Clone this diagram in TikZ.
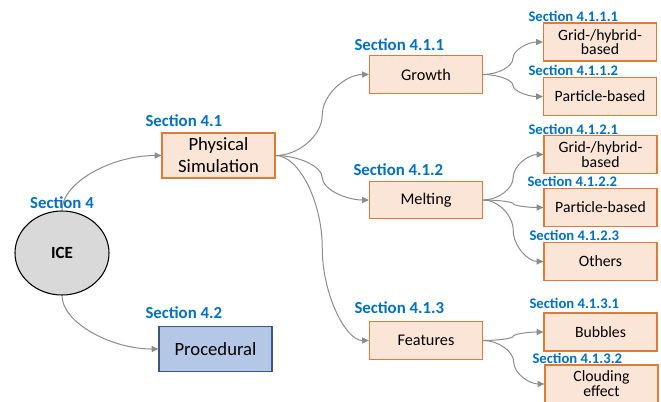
\documentclass[tikz,border=0pt]{standalone}
\usepackage{fontspec}
\setmainfont{Carlito}
\usetikzlibrary{arrows.meta,shapes.geometric,calc}

\definecolor{secblue}{HTML}{0070C0}
\definecolor{boxfill}{HTML}{FBE5D6}
\definecolor{boxline}{HTML}{DE7A3A}
\definecolor{procfill}{HTML}{B4C7E7}
\definecolor{procline}{HTML}{3E5580}
\definecolor{icefill}{HTML}{D9D9D9}
\definecolor{linkgray}{HTML}{8C8C8C}

\tikzset{every picture/.style={line width=0.75pt}}
\tikzset{
  seclabel/.style={text=secblue, inner sep=0pt, anchor=base west, font=\fontsize{12.6}{15}\selectfont\bfseries},
  leaflabel/.style={seclabel, font=\fontsize{11}{13}\selectfont\bfseries},
  icenode/.style={ellipse, draw=black, fill=icefill, line width=0.8pt, minimum width=70.5pt, minimum height=63pt, inner sep=0pt, font=\fontsize{12.8}{15}\selectfont\bfseries},
  topbox/.style={draw=boxline, fill=boxfill, line width=0.9pt, minimum width=84.75pt, minimum height=33.75pt, inner sep=0.75pt, align=center, font=\fontsize{14}{16.5}\selectfont},
  midbox/.style={topbox, minimum height=28pt, font=\fontsize{12.2}{14}\selectfont},
  leafbox/.style={topbox, minimum height=28.5pt, font=\fontsize{11.8}{9.8}\selectfont},
  link/.style={draw=linkgray, line width=0.75pt, -{Triangle[length=5pt,width=4.5pt]}},
  % S-shaped connector: two cubic halves meeting upright at the midpoint
  scurve/.style={to path={
    let \p1=(\tikztostart), \p2=(\tikztotarget), \p3=($(\p1)!0.5!(\p2)$) in
    .. controls ($(\p1)!0.5!(\x3,\y1)$) and ($(\x3,\y1)!0.5!(\p3)$) .. (\p3)
    .. controls ($(\p3)!0.5!(\x3,\y2)$) and ($(\x3,\y2)!0.5!(\p2)$) .. (\p2) \tikztonodes}},
}

\begin{document}
\begin{tikzpicture}[x=0.75pt,y=0.75pt,yscale=-1,xscale=1]
\useasboundingbox (0,0) rectangle (661,401);

%Shape: Ellipse [root]
\node[icenode] (ice) at (62,253) {ICE};

%Shape: Rectangles [level 1]
\node[topbox] (phys) at (218.5,155.5) {Physical\\Simulation};
\node[topbox, draw=procline, fill=procfill] (proc) at (215.5,349) {Procedural};

%Shape: Rectangles [level 2]
\node[midbox] (growth) at (426,74.5) {Growth};
\node[midbox] (melt) at (426,200) {Melting};
\node[midbox] (feat) at (426,340.5) {Features};

%Shape: Rectangles [level 3]
\node[leafbox] (growgrid) at (600,42) {Grid-/hybrid-\\based};
\node[leafbox] (growpart) at (600,96.5) {Particle-based};
\node[leafbox] (meltgrid) at (600.5,154.5) {Grid-/hybrid-\\based};
\node[leafbox] (meltpart) at (600.5,207.5) {Particle-based};
\node[leafbox] (meltother) at (600.5,261.5) {Others};
\node[leafbox] (bubbles) at (600.5,332) {Bubbles};
\node[leafbox] (clouding) at (601.5,384) {Clouding\\effect};

% Text Node
\node[seclabel, anchor=base] (sec4) at (62,208) {Section 4};
\node[seclabel] (sec41) at (145,126) {Section 4.1};
\node[seclabel] (sec42) at (145,318) {Section 4.2};
\node[seclabel] (sec411) at (354,50) {Section 4.1.1};
\node[seclabel] (sec412) at (353,175) {Section 4.1.2};
\node[seclabel] (sec413) at (354,313) {Section 4.1.3};
\node[leaflabel] (sec4111) at (528,21) {Section 4.1.1.1};
\node[leaflabel] (sec4112) at (528,75) {Section 4.1.1.2};
\node[leaflabel] (sec4121) at (528,134) {Section 4.1.2.1};
\node[leaflabel] (sec4122) at (527,186) {Section 4.1.2.2};
\node[leaflabel] (sec4123) at (529,240) {Section 4.1.2.3};
\node[leaflabel] (sec4131) at (529,308) {Section 4.1.3.1};
\node[leaflabel] (sec4132) at (532,363) {Section 4.1.3.2};

%Curve Lines
\draw[link] (ice.north) to[out=-90,in=180,out distance=21pt,in distance=37.5pt] (phys.west);
\draw[link] (ice.south) to[out=90,in=180,out distance=20pt,in distance=36pt] (proc.west);
\draw[link] (phys.east) to[scurve] (growth.west);
\draw[link] (phys.east) to[scurve] (melt.west);
\draw[link] (phys.east) to[scurve] (feat.west);
\draw[link] (growth.east) to[scurve] (growgrid.west);
\draw[link] (growth.east) to[scurve] (growpart.west);
\draw[link] (melt.east) to[scurve] (meltgrid.west);
\draw[link] (melt.east) to[scurve] (meltpart.west);
\draw[link] (melt.east) to[scurve] (meltother.west);
\draw[link] (feat.east) to[scurve] (bubbles.west);
\draw[link] (feat.east) to[scurve] (clouding.west);

\end{tikzpicture}
\end{document}
